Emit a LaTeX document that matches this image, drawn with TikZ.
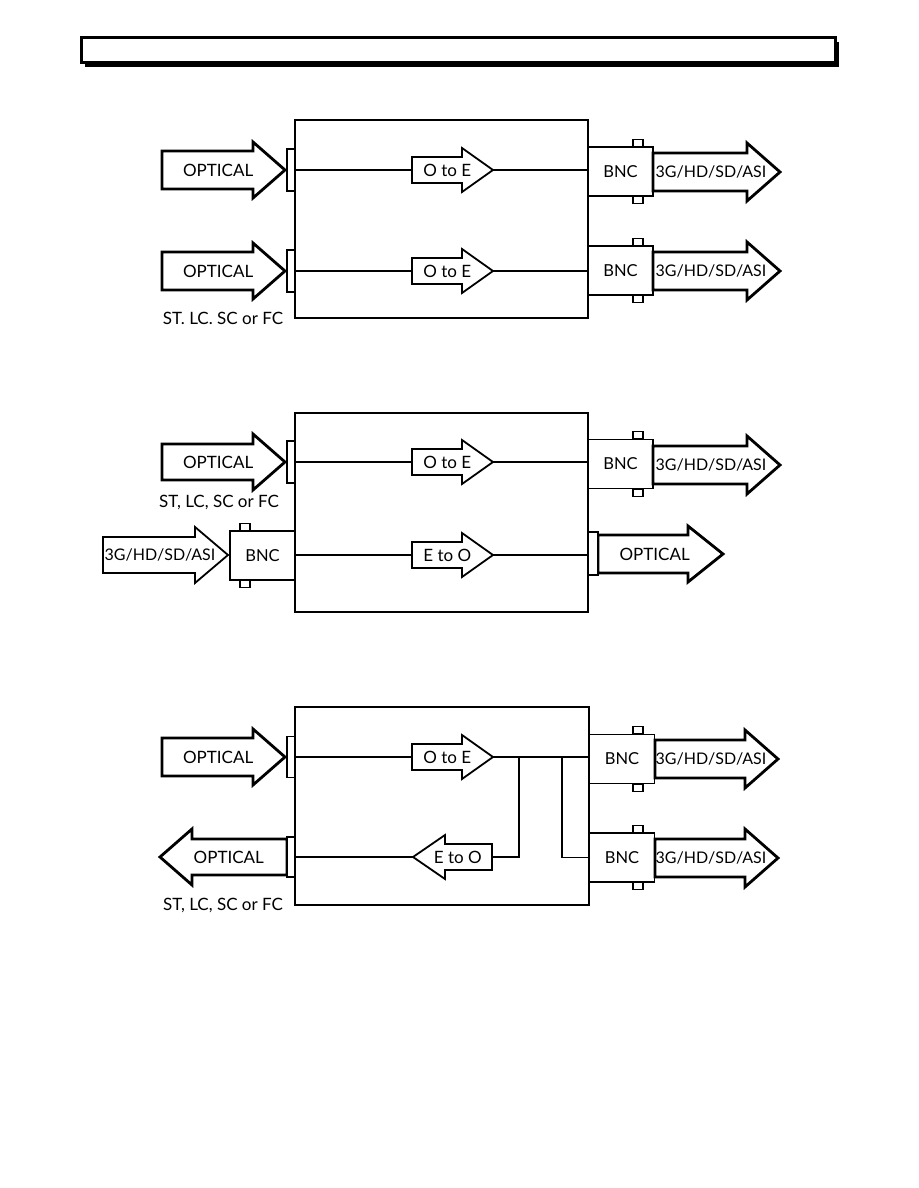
\documentclass[tikz,border=0pt]{standalone}
\usepackage{fontspec}
\setmainfont{Lato}
\usetikzlibrary{calc,positioning}

% block arrow with a text label: style, name, tail x, tip x, y, body half, head half, head length, text
\newcommand{\sigarrow}[9]{%
  \draw[#1] (#3,{#5-#6}) -- ({#4-#8},{#5-#6}) -- ({#4-#8},{#5-#7}) -- (#4,#5)
    -- ({#4-#8},{#5+#7}) -- ({#4-#8},{#5+#6}) -- (#3,{#5+#6}) -- cycle;
  \coordinate (#2-tail) at (#3,#5);
  \coordinate (#2-tip) at (#4,#5);
  \node[lbl] (#2) at ({(#3+#4)/2-#8/6},#5) {#9};
}

% BNC jack: name, x, y, tab offset
\newcommand{\bncbox}[4]{%
  \node[bnc] (#1) at (#2,#3) {BNC};
  \draw[tab] ($(#1.north)+(#4,0)$) rectangle ++(10,-7);
  \draw[tab] ($(#1.south)+(#4,0)$) rectangle ++(10,7);
}

\newcommand{\sdi}{{\fontsize{16}{18}\selectfont 3G/HD/SD/ASI}}

\begin{document}
\begin{tikzpicture}[
  x=1pt, y=-1pt,
  unit/.style={draw=black, line width=2pt},
  conn/.style={draw=black, fill=white, line width=1.6pt, inner sep=0pt, minimum width=8pt},
  bnc/.style={draw=black, fill=white, line width=1.6pt, inner sep=0pt, minimum width=65pt, minimum height=49pt, font=\fontsize{16.5}{18}\selectfont},
  tab/.style={draw=black, fill=white, line width=1.3pt},
  heavy/.style={draw=black, fill=white, line width=2.8pt},
  light/.style={draw=black, fill=white, line width=1.8pt},
  lbl/.style={inner sep=0pt, font=\fontsize{17}{19}\selectfont},
  wire/.style={draw=black, line width=1.4pt}
]
  \useasboundingbox (0,0) rectangle (918,1188);
  \fill[white] (0,0) rectangle (918,1188);

  % Header bar
  \fill[black] (85,42) rectangle (839,67);
  \draw[line width=3pt, fill=white] (81,38) rectangle (835,63);

  % ==================== DUAL RECEIVER ====================
  \draw[unit] (295,120) rectangle (588,318);
  \sigarrow{heavy}{oin1a}{162}{285}{170}{19}{28}{32}{OPTICAL}
  \sigarrow{heavy}{oin1b}{162}{285}{271}{19}{28}{32}{OPTICAL}
  \node[conn, minimum height=42pt] (f1a) at (291,170) {};
  \node[conn, minimum height=42pt] (f1b) at (291,271) {};
  \node[lbl] (con1) at (223,318) {ST. LC. SC or FC};

  \sigarrow{light}{oe1a}{412}{493}{170}{13}{22}{31}{O to E}
  \sigarrow{light}{oe1b}{412}{493}{271}{13}{22}{31}{O to E}

  \bncbox{b1a}{620.5}{171.5}{12.5}
  \bncbox{b1b}{620.5}{270.5}{12.5}
  \sigarrow{heavy}{out1a}{653}{780}{172}{19}{29}{33}{\sdi}
  \sigarrow{heavy}{out1b}{653}{780}{271}{19}{29}{33}{\sdi}

  \draw[wire] (f1a.east) -- (oe1a-tail);
  \draw[wire] (f1b.east) -- (oe1b-tail);
  \draw[wire] (oe1a-tip) -- (oe1a-tip -| b1a.west);
  \draw[wire] (oe1b-tip) -- (oe1b-tip -| b1b.west);

  % ==================== TRANSCEIVER ====================
  \draw[unit] (295,413) rectangle (588,612);
  \sigarrow{heavy}{oin2}{162}{285}{462}{18}{28}{32}{OPTICAL}
  \node[conn, minimum height=42pt] (f2a) at (291,462) {};
  \node[lbl] (con2) at (219,502) {ST, LC, SC or FC};

  \sigarrow{light}{ein2}{103}{228}{555}{18}{28}{33}{\sdi}
  \bncbox{b2in}{262.5}{555.5}{-22.5}

  \sigarrow{light}{oe2}{412}{493}{462}{13}{22}{31}{O to E}
  \sigarrow{light}{eo2}{412}{493}{555}{13}{22}{31}{E to O}

  \bncbox{b2out}{620.5}{464}{12.5}
  \sigarrow{heavy}{out2}{653}{780}{465}{19}{29}{33}{\sdi}

  \sigarrow{heavy}{oout2}{598}{723}{554}{19}{28}{35}{OPTICAL}
  \node[conn, minimum width=10pt, minimum height=43pt] (f2b) at (593,553.5) {};

  \draw[wire] (f2a.east) -- (oe2-tail);
  \draw[wire] (oe2-tip) -- (oe2-tip -| b2out.west);
  \draw[wire] (eo2-tail -| b2in.east) -- (eo2-tail);
  \draw[wire] (eo2-tip) -- (eo2-tip -| f2b.west);

  % ==================== RECEIVER WITH LOOP-THROUGH ====================
  \draw[unit] (295,707) rectangle (589,905);
  \sigarrow{heavy}{oin3}{162}{285}{757}{19}{28}{32}{OPTICAL}
  \node[conn, minimum height=41pt] (f3a) at (291,757) {};
  \sigarrow{heavy}{oout3}{287}{160}{857}{18}{28}{-32}{OPTICAL}
  \node[conn, minimum height=40pt] (f3b) at (291,857) {};
  \node[lbl] (con3) at (223,905) {ST, LC, SC or FC};

  \sigarrow{light}{oe3}{412}{493}{757}{13}{22}{31}{O to E}
  \sigarrow{light}{eo3}{492}{413}{857}{13}{22}{-32}{E to O}

  \bncbox{b3a}{622}{759}{11}
  \bncbox{b3b}{622}{857.5}{11}
  \sigarrow{heavy}{out3a}{655}{778}{759}{19}{29}{33}{\sdi}
  \sigarrow{heavy}{out3b}{655}{778}{858}{19}{29}{33}{\sdi}

  \coordinate (j1) at (519,757);
  \coordinate (j2) at (562,757);
  \draw[wire] (f3a.east) -- (oe3-tail);
  \draw[wire] (oe3-tip) -- (oe3-tip -| b3a.west);
  \draw[wire] (j1) |- (eo3-tail);
  \draw[wire] (j2) |- (b3b.west);
  \draw[wire] (eo3-tip) -- (eo3-tip -| f3b.east);
\end{tikzpicture}
\end{document}
